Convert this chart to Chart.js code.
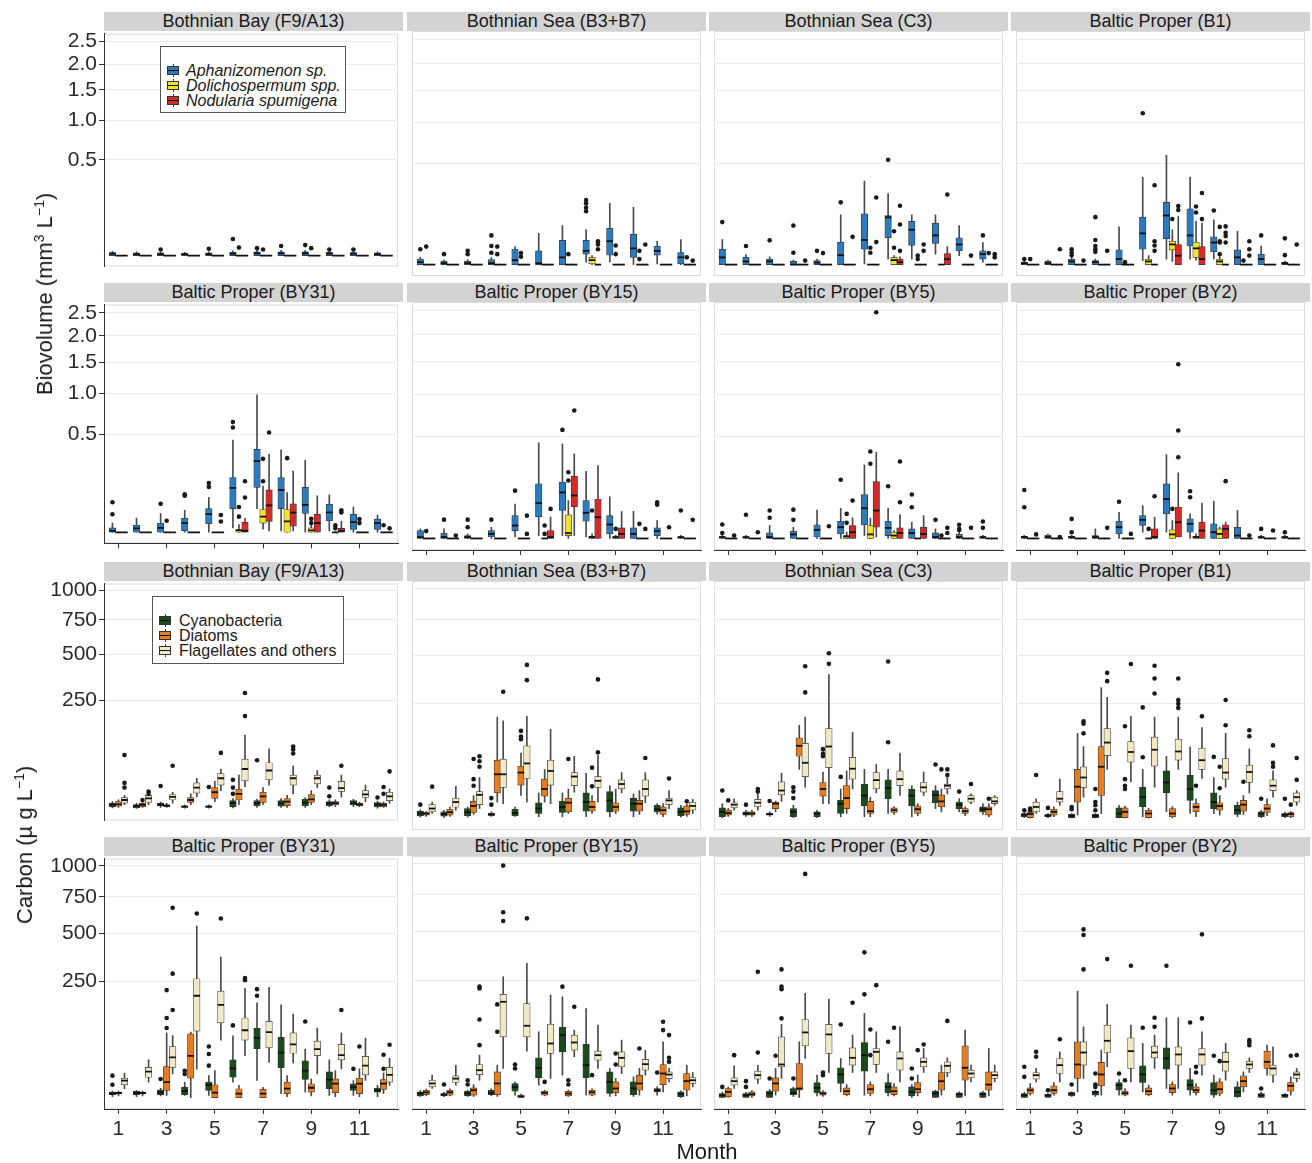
<!DOCTYPE html>
<html>
<head>
<meta charset="utf-8">
<script src="https://cdn.jsdelivr.net/npm/chart.js@4.4.1/dist/chart.umd.min.js"></script>
<style>
html,body{margin:0;padding:0;background:#fff;}
body{width:1312px;height:1163px;position:relative;overflow:hidden;font-family:"Liberation Sans",Arial,Helvetica,sans-serif;color:#1a1a1a;}
.wrap{position:absolute;}
.strip{position:absolute;background:#d3d3d3;color:#1a1a1a;font-size:18px;line-height:19px;height:19px;text-align:center;white-space:nowrap;overflow:hidden;}
.ytitle{position:absolute;transform:translate(-50%,-50%) rotate(-90deg);white-space:nowrap;font-size:22px;color:#1a1a1a;}
.ytitle sup{font-size:14px;vertical-align:8px;line-height:0;}
.xtitle{position:absolute;transform:translate(-50%,-50%);font-size:22px;color:#1a1a1a;white-space:nowrap;}
.legend{position:absolute;border:1px solid #555;background:#fff;}
.item{position:absolute;left:0;height:15px;line-height:15px;font-size:16px;white-space:nowrap;}
.key{position:absolute;top:1px;width:12px;height:13px;}
.key .w{position:absolute;left:5.5px;top:0;width:1px;height:13px;background:#333;}
.key .b{position:absolute;left:0;top:2px;width:10px;height:7px;border:1px solid #333;}
.key .m{position:absolute;left:1px;top:5.5px;width:10px;height:1.6px;background:#111;}
</style>
</head>
<body>
<script>
// ---------------- DATA ----------------
const months = [1,2,3,4,5,6,7,8,9,10,11,12];
const monthTicks = [1,3,5,7,9,11];
const bioTickValues = [0.5,1.0,1.5,2.0,2.5];
const bioTickLabels = ["0.5","1.0","1.5","2.0","2.5"];
const carbonTickValues = [250,500,750,1000];
const carbonTickLabels = ["250","500","750","1000"];
const stations = ["Bothnian Bay (F9/A13)","Bothnian Sea (B3+B7)","Bothnian Sea (C3)","Baltic Proper (B1)",
                  "Baltic Proper (BY31)","Baltic Proper (BY15)","Baltic Proper (BY5)","Baltic Proper (BY2)"];
const bioSeries = ["Aphanizomenon sp.","Dolichospermum spp.","Nodularia spumigena"];
const carbonSeries = ["Cyanobacteria","Diatoms","Flagellates and others"];

// Box statistics per station (8) and month (12): [lower whisker, Q1, median, Q3, upper whisker]
// Biovolume, mm3 L-1
const aphanizomenonBoxes = [
 [[0,0,0.0002,0.0005,0.001],[0,0,0.0001,0.0004,0.0008],[0,0,0.0001,0.0004,0.0008],[0,0,0.0001,0.0003,0.0006],[0,0,0.0001,0.0004,0.0008],[0,0,0.0002,0.0006,0.0012],[0,0,0.0003,0.0008,0.0015],[0,0,0.0003,0.0008,0.0015],[0,0,0.0003,0.0008,0.0015],[0,0,0.0002,0.0006,0.0012],[0,0,0.0002,0.0005,0.001],[0,0,0.0001,0.0004,0.0008]],
 [[0,0,0.0003,0.0015,0.0026],[0,0,0.0001,0.0006,0.001],[0,0,0.0001,0.0006,0.0012],[0,0,0.0001,0.0012,0.0025],[0,0,0.001,0.012,0.016],[0,0,0.0001,0.0093,0.048],[0,0,0.0026,0.029,0.075],[0.0003,0.0054,0.0093,0.029,0.06],[0.0003,0.0044,0.027,0.066,0.185],[0,0.0026,0.013,0.045,0.162],[0.00002,0.0044,0.0093,0.017,0.027],[0,0.00002,0.0026,0.0072,0.031]],
 [[0,0,0.0026,0.0117,0.031],[0,0,0.0005,0.0026,0.005],[0,0,0.0005,0.0015,0.003],[0,0,0,0.0005,0.001],[0,0,0.0002,0.0008,0.0015],[0,0,0.0044,0.025,0.122],[0.00002,0.0117,0.03,0.127,0.344],[0.0015,0.036,0.11,0.118,0.249],[0.0015,0.018,0.06,0.092,0.122],[0.0054,0.022,0.042,0.085,0.122],[0.004,0.0093,0.02,0.0355,0.075],[0.0003,0.0015,0.0054,0.0093,0.024]],
 [[0,0,0.0001,0.0003,0.0006],[0,0,0.0001,0.0005,0.001],[0,0,0.0005,0.0015,0.003],[0,0,0.0003,0.0008,0.0015],[0,0,0.0015,0.0107,0.07],[0.0008,0.0117,0.048,0.111,0.377],[0.0015,0.033,0.119,0.191,0.59],[0.0015,0.017,0.042,0.153,0.377],[0.0015,0.008,0.024,0.038,0.099],[0,0,0.0026,0.0107,0.055],[0,0,0.0015,0.0054,0.017],[0,0,0.0001,0.0003,0.0006]],
 [[0,0,0.0001,0.001,0.0044],[0,0,0.0008,0.0026,0.0103],[0,0,0.001,0.0044,0.0184],[0,0.0001,0.0044,0.0103,0.025],[0,0.0036,0.017,0.029,0.063],[0.001,0.029,0.102,0.155,0.44],[0.029,0.105,0.263,0.357,0.98],[0.0001,0.029,0.093,0.155,0.353],[0,0.0184,0.039,0.105,0.268],[0.0001,0.0069,0.0205,0.041,0.073],[0,0.0004,0.0054,0.017,0.033],[0,0.0004,0.0044,0.009,0.0155]],
 [[0,0,0.0001,0.003,0.0044],[0,0,0.0001,0.0014,0.0044],[0,0,0.0001,0.0004,0.001],[0,0.0001,0.001,0.003,0.0061],[0.0001,0.003,0.0081,0.025,0.057],[0.0004,0.023,0.06,0.144,0.44],[0.0004,0.0376,0.102,0.152,0.43],[0.0001,0.0143,0.0317,0.069,0.216],[0,0.001,0.0094,0.025,0.084],[0,0,0.001,0.0054,0.0355],[0,0.0004,0.0026,0.0054,0.0155],[0,0,0.0001,0.0001,0.0005]],
 [[0,0,0.0001,0.0001,0.0005],[0,0,0.0001,0.0001,0.0005],[0,0,0.0001,0.0015,0.0081],[0,0,0.0008,0.0026,0.0061],[0,0.0001,0.0036,0.009,0.039],[0,0.001,0.0061,0.0143,0.044],[0.0004,0.009,0.044,0.093,0.261],[0,0.0004,0.0054,0.0143,0.044],[0,0,0.0014,0.0044,0.0127],[0,0,0.0001,0.0015,0.0044],[0,0,0.0001,0.0009,0.0026],[0,0,0.0001,0.0001,0.0005]],
 [[0,0,0.0001,0.0002,0.0005],[0,0,0.0001,0.0005,0.001],[0,0,0.0001,0.0002,0.0005],[0,0,0.0001,0.0004,0.0044],[0,0.001,0.0061,0.0143,0.033],[0.0019,0.0081,0.0167,0.025,0.052],[0.0019,0.029,0.075,0.143,0.338],[0,0.0019,0.0103,0.0184,0.029],[0,0,0.0019,0.0103,0.067],[0,0,0.0004,0.0061,0.0376],[0,0,0.0001,0.0001,0.0005],[0,0,0.0001,0.0001,0.0005]]
];
const dolichospermumBoxes = [
 [[0,0,0,0,0],[0,0,0,0,0],[0,0,0,0,0],[0,0,0,0,0],[0,0,0,0,0],[0,0,0,0,0],[0,0,0,0,0],[0,0,0,0,0],[0,0,0,0,0],[0,0,0,0,0],[0,0,0,0,0],[0,0,0,0,0]],
 [[0,0,0,0,0],[0,0,0,0,0],[0,0,0,0,0],[0,0,0,0,0],[0,0,0,0,0],[0,0,0,0,0],[0,0,0,0,0],[0,0.00002,0.001,0.0026,0.004],[0,0,0,0,0],[0,0,0,0,0],[0,0,0,0,0],[0,0,0,0,0]],
 [[0,0,0,0,0],[0,0,0,0,0],[0,0,0,0,0],[0,0,0,0,0],[0,0,0,0,0],[0,0,0,0,0],[0,0,0,0,0],[0,0,0.001,0.0026,0.004],[0,0,0,0,0],[0,0,0,0,0],[0,0,0,0,0],[0,0,0,0,0]],
 [[0,0,0,0,0],[0,0,0,0,0],[0,0,0,0,0],[0,0,0,0,0],[0,0,0,0,0],[0,0,0.0005,0.0015,0.004],[0.0005,0.0107,0.02,0.027,0.06],[0.001,0.0026,0.013,0.025,0.092],[0,0,0.0005,0.0015,0.003],[0,0,0,0,0],[0,0,0,0,0],[0,0,0,0,0]],
 [[0,0,0,0,0],[0,0,0,0,0],[0,0,0,0,0],[0,0,0,0,0],[0,0,0,0,0],[0,0,0.0002,0.0004,0.003],[0.0005,0.0044,0.0127,0.027,0.111],[0,0,0.0061,0.027,0.082],[0,0,0.0002,0.001,0.0025],[0,0,0,0,0],[0,0,0,0,0],[0,0,0,0,0]],
 [[0,0,0,0,0],[0,0,0,0,0],[0,0,0,0,0],[0,0,0,0,0],[0,0,0,0,0],[0,0,0,0,0],[0,0.0004,0.0014,0.027,0.069],[0,0,0.0001,0.0002,0.001],[0,0,0.0001,0.0001,0.0005],[0,0,0,0,0],[0,0,0,0,0],[0,0,0,0,0]],
 [[0,0,0,0,0],[0,0,0,0,0],[0,0,0,0,0],[0,0,0,0,0],[0,0,0,0,0],[0,0,0.0002,0.0004,0.002],[0,0,0.0008,0.0081,0.02],[0,0,0.0004,0.0019,0.003],[0,0,0,0,0],[0,0,0,0,0],[0,0,0,0,0],[0,0,0,0,0]],
 [[0,0,0,0,0],[0,0,0,0,0],[0,0,0,0,0],[0,0,0,0,0],[0,0,0,0,0],[0,0,0,0,0],[0,0,0.0008,0.0036,0.0155],[0,0,0.0001,0.0002,0.001],[0,0,0.001,0.0044,0.0061],[0,0,0,0,0],[0,0,0,0,0],[0,0,0,0,0]]
];
const nodulariaBoxes = [
 [[0,0,0,0,0],[0,0,0,0,0],[0,0,0,0,0],[0,0,0,0,0],[0,0,0,0,0],[0,0,0,0,0],[0,0,0,0,0],[0,0,0,0,0],[0,0,0,0,0],[0,0,0,0,0],[0,0,0,0,0],[0,0,0,0,0]],
 [[0,0,0,0,0],[0,0,0,0,0],[0,0,0,0,0],[0,0,0,0,0],[0,0,0,0,0],[0,0,0,0,0],[0,0,0,0,0],[0,0,0,0,0],[0,0,0,0,0],[0,0,0,0,0],[0,0,0,0,0],[0,0,0,0,0]],
 [[0,0,0,0,0],[0,0,0,0,0],[0,0,0,0,0],[0,0,0,0,0],[0,0,0,0,0],[0,0,0,0,0],[0,0,0,0,0],[0,0,0.0003,0.0015,0.003],[0,0,0,0,0],[0,0,0.0015,0.006,0.016],[0,0,0,0,0],[0,0,0,0,0]],
 [[0,0,0,0,0],[0,0,0,0,0],[0,0,0,0,0],[0,0,0,0,0],[0,0,0,0,0],[0,0,0,0,0],[0,0,0.0039,0.02,0.114],[0,0,0.0015,0.016,0.085],[0,0,0,0,0],[0,0,0,0,0],[0,0,0,0,0],[0,0,0,0,0]],
 [[0,0,0,0,0],[0,0,0,0,0],[0,0,0,0,0],[0,0,0,0,0],[0,0,0,0,0],[0,0,0.0001,0.0054,0.01],[0.0001,0.0061,0.0376,0.093,0.318],[0.0001,0.0019,0.0199,0.042,0.195],[0,0,0.0044,0.0167,0.069],[0,0,0.0001,0.0008,0.0061],[0,0,0,0,0],[0,0,0,0,0]],
 [[0,0,0,0,0],[0,0,0,0,0],[0,0,0,0,0],[0,0,0,0,0],[0,0,0,0,0],[0,0,0.0001,0.003,0.022],[0.0004,0.049,0.089,0.187,0.344],[0,0,0.0218,0.075,0.256],[0,0,0.001,0.0054,0.035],[0,0,0,0,0],[0,0,0,0,0],[0,0,0,0,0]],
 [[0,0,0,0,0],[0,0,0,0,0],[0,0,0,0,0],[0,0,0,0,0],[0,0,0,0,0],[0,0,0.0019,0.0081,0.0205],[0.0001,0.0061,0.0376,0.155,0.357],[0,0,0.0014,0.0054,0.0275],[0,0,0.001,0.0061,0.025],[0,0,0,0,0],[0,0,0,0,0],[0,0,0,0,0]],
 [[0,0,0,0,0],[0,0,0,0,0],[0,0,0,0,0],[0,0,0,0,0],[0,0,0,0,0],[0,0,0.0001,0.0044,0.0218],[0.0001,0.0001,0.0127,0.047,0.207],[0,0,0.003,0.0127,0.06],[0,0,0.0044,0.009,0.0127],[0,0,0,0,0],[0,0,0,0,0],[0,0,0,0,0]]
];
// Outliers: [station index, month, value]
const aphanizomenonOutliers = [
 [0,3,0.002],[0,5,0.0025],[0,6,0.015],[0,7,0.003],[0,8,0.005],[0,9,0.006],[0,10,0.002],[0,11,0.002],
 [1,1,0.0117],[1,2,0.0054],[1,3,0.0093],[1,3,0.0054],[1,4,0.042],[1,4,0.017],[1,4,0.007],[1,8,0.205],[1,8,0.185],[1,8,0.16],[1,8,0.14],
 [2,1,0.089],[2,2,0.017],[2,3,0.029],[2,4,0.075],[2,4,0.007],[2,5,0.0093],[2,6,0.191],[2,8,0.541],[2,12,0.042],
 [3,1,0.0015],[3,3,0.0117],[3,3,0.0072],[3,3,0.0044],[3,4,0.111],[3,4,0.03],[3,4,0.017],[3,4,0.0117],[3,4,0.008],[3,6,1.128],[3,9,0.144],[3,11,0.042],[3,12,0.034],[3,12,0.0044],
 [4,1,0.047],[4,1,0.017],[4,3,0.042],[4,4,0.075],[4,4,0.069],[4,5,0.126],[4,5,0.107],[4,6,0.63],[4,6,0.57],
 [5,2,0.017],[5,3,0.017],[5,3,0.0061],[5,4,0.017],[5,5,0.11],[5,7,0.567],[5,11,0.063],[5,11,0.055],[5,12,0.0376],
 [6,1,0.0094],[6,1,0.0014],[6,2,0.027],[6,3,0.0376],[6,3,0.0205],[6,4,0.04],[6,4,0.0167],[6,6,0.166],[6,8,0.131],[6,9,0.047],[6,9,0.093],[6,10,0.0167],[6,11,0.009],[6,11,0.0044],[6,11,0.0035],[6,12,0.0139],[6,12,0.0054],
 [7,1,0.113],[7,1,0.047],[7,3,0.0184],[7,3,0.0019],[7,5,0.065],[7,8,0.107],[7,8,0.082],[7,11,0.0044],[7,12,0.0019]
];
const dolichospermumOutliers = [
 [0,6,0.0035],[0,7,0.002],[0,9,0.003],
 [1,1,0.016],[1,4,0.016],[1,4,0.0054],[1,5,0.0065],[1,5,0.003],[1,7,0.0054],[1,9,0.018],[1,9,0.0054],[1,10,0.0093],[1,10,0.0015],[1,12,0.0026],
 [2,5,0.0065],[2,7,0.014],[2,7,0.007],[2,8,0.055],[2,8,0.014],[2,9,0.004],[2,9,0.0015],[2,12,0.0065],
 [3,1,0.0015],[3,5,0.0003],[3,7,0.102],[3,8,0.166],[3,8,0.134],[3,9,0.07],[3,9,0.027],[3,9,0.024],[3,9,0.0054],[3,10,0.0008],
 [4,3,0.0069],[4,6,0.033],[4,6,0.0127],[4,7,0.28],[4,7,0.135],[4,8,0.285],[4,9,0.0094],[4,9,0.0044],[4,10,0.0026],[4,10,0.0008],[4,11,0.009],[4,11,0.0044],[4,12,0.0026],
 [5,1,0.0026],[5,6,0.0081],[5,6,0.001],[5,7,0.211],[5,7,0.162],[5,8,0.0376],[5,9,0.0044],[5,10,0.0103],
 [6,6,0.029],[6,6,0.0117],[6,7,0.364],[6,7,0.268],[6,10,0.0004],
 [7,6,0.0044],[7,7,0.042]
];
const nodulariaOutliers = [
 [1,8,0.027],[1,8,0.02],[1,8,0.0117],[1,10,0.02],[1,12,0.0008],
 [2,4,0.0008],[2,6,0.038],[2,7,0.222],[2,7,0.025],[2,8,0.171],[2,8,0.079],[2,8,0.0093],[2,9,0.02],[2,9,0.0093],[2,10,0.242],[2,11,0.004],[2,12,0.0054],[2,12,0.0026],
 [3,2,0.0117],[3,3,0.0008],[3,4,0.0093],[3,6,0.31],[3,6,0.027],[3,6,0.018],[3,6,0.0093],[3,7,0.169],[3,7,0.147],[3,8,0.253],[3,8,0.102],[3,9,0.072],[3,9,0.05],[3,9,0.04],[3,9,0.024],[3,10,0.027],[3,10,0.0117],[3,10,0.004],[3,12,0.02],
 [4,5,0.0155],[4,5,0.0061],[4,6,0.135],[4,6,0.063],[4,7,0.517],[4,10,0.025],[4,10,0.0205],[4,12,0.0008],
 [5,2,0.0004],[5,5,0.025],[5,5,0.001],[5,6,0.042],[5,7,0.787],[5,10,0.0044],[5,11,0.0061],[5,12,0.0167],
 [6,1,0.0004],[6,2,0.0019],[6,5,0.0072],[6,6,0.069],[6,7,2.46],[6,8,0.063],[6,8,0.285],[6,10,0.0054],[6,10,0.0014],[6,11,0.0054],
 [7,1,0.0008],[7,2,0.0001],[7,4,0.0054],[7,5,0.001],[7,6,0.086],[7,7,0.317],[7,7,0.56],[7,7,1.46],[7,9,0.158],[7,10,0.0004],[7,11,0.003]
];

// Carbon, ug L-1
const cyanobacteriaBoxes = [
 [[0.07,0.16,0.51,0.89,1.36],[0.03,0.07,0.3,0.51,0.8],[0.1,0.34,0.5,0.89,1.2],[0.05,0.1,0.2,0.3,0.5],[0.05,0.1,0.2,0.3,0.5],[0.07,0.16,0.89,1.69,2.6],[0.1,0.34,0.89,1.69,2.2],[0.1,0.24,0.8,1.69,2.5],[0.1,0.34,1.0,2.2,3.0],[0.2,0.34,0.8,1.36,2.0],[0.2,0.5,0.89,1.69,2.2],[0.05,0.16,0.6,1.06,1.5]],
 [[0.05,0.16,0.5,1.06,1.5],[0.03,0.12,0.4,0.89,1.3],[0.05,0.16,0.8,1.93,2.6],[0.1,0.2,0.3,0.6,0.9],[0.1,0.16,0.6,1.69,2.5],[0.07,0.5,1.93,4.8,12.5],[0.07,0.72,2.6,5.65,12.5],[0.07,1.06,5.2,12.5,38.8],[0.07,0.89,6.3,13.8,20.5],[0.07,1.06,4.25,8.0,11.6],[0.4,0.89,1.69,3.37,4.2],[0.05,0.16,0.89,2.2,3.37]],
 [[0.02,0.07,0.89,2.2,4.25],[0.1,0.24,0.5,0.89,1.3],[0.1,0.24,0.4,0.6,0.9],[0.02,0.07,0.89,1.93,3.37],[0.02,0.07,0.51,0.89,1.3],[0.07,0.51,4.25,6.3,16.6],[0.07,3.06,10.1,22.6,45.7],[0.5,7.5,17.4,28.4,45.7],[0.07,3.06,10.1,16.6,20.5],[1.93,4.8,10.7,14.9,20.5],[0.89,1.93,3.7,5.2,7.5],[0.34,0.89,1.7,2.6,4.25]],
 [[0.02,0.07,0.3,0.51,0.8],[0.02,0.07,0.2,0.3,0.5],[0.01,0.02,0.15,0.34,0.5],[0.01,0.02,0.15,0.34,0.5],[0.01,0.02,0.51,2.2,3.37],[0.07,2.6,8.7,18.5,45.7],[0.89,12.5,24.7,42.9,73],[0.5,6.3,16.6,35.6,96.4],[0.5,1.93,5.2,12.5,31.9],[0.07,0.34,1.36,3.37,5.2],[0.02,0.07,0.5,0.89,1.3],[0.02,0.07,0.3,0.51,0.8]],
 [[0.02,0.16,0.3,0.58,0.8],[0.02,0.16,0.4,0.72,0.9],[0.05,0.16,0.5,1.16,1.6],[0.1,0.16,0.8,2.06,4.44],[0.1,0.97,3.06,4.44,9.1],[4.44,7.73,15.9,26.6,71],[5.44,44.6,66.6,90,167],[0.29,16.4,37.7,68.3,160],[0.58,6.1,13.6,25.2,43.8],[0.1,1.48,6.1,12.5,26.6],[0.1,0.97,2.06,3.6,5.44],[0.02,0.58,0.97,1.7,2.8]],
 [[0.02,0.05,0.3,0.58,0.9],[0.01,0.05,0.16,0.29,0.5],[0.02,0.05,0.3,0.72,1.0],[0.05,0.16,0.4,0.97,1.4],[0.1,0.72,2.06,3.6,4.44],[2.8,7.0,15.9,28.7,78.7],[9.1,38,71,90,185],[0.1,7.0,19.1,51.3,144],[0.02,0.29,4.44,12,15.4],[0.02,0.16,1.48,4.44,7.8],[0.1,0.58,0.97,1.48,2.06],[0,0.01,0.2,0.58,0.8]],
 [[0,0,0.1,0.29,0.5],[0,0,0.1,0.29,0.5],[0,0,0.3,0.73,1.2],[0.02,0.16,0.4,1.48,2.0],[0.05,0.45,1.7,4.1,9.1],[0.58,3.6,9.66,16.1,27.8],[0.1,12.7,32.7,55.2,129],[0.05,0.45,2.06,4.1,10.5],[0,0.05,0.58,2.06,3.06],[0,0,0.3,0.73,1.0],[0,0,0.2,0.4,0.6],[0,0,0.2,0.45,0.7]],
 [[0,0,0.1,0.29,0.5],[0,0,0.1,0.16,0.3],[0.02,0.05,0.3,0.45,0.6],[0.02,0.1,0.5,0.73,1.0],[0.1,0.97,2.8,4.1,5.9],[0.58,4.1,9.66,18.3,53.2],[1.48,14.7,27.8,45,116],[0.1,0.97,2.8,5.9,15.4],[0,0.1,0.97,4.1,9.1],[0,0.01,0.58,2.06,4.44],[0,0,0.1,0.29,0.5],[0,0,0.1,0.16,0.3]]
];
const diatomBoxes = [
 [[0.1,0.24,0.6,1.36,2.0],[0.1,0.16,0.5,0.89,1.5],[0.1,0.2,0.34,0.5,0.8],[0.5,1.06,1.93,3.06,5.2],[1.36,2.6,6.3,10.1,16.6],[0.5,1.93,5.2,8.7,24.7],[0.5,1.06,3.7,6.3,10.1],[0.1,0.34,1.36,2.6,4.25],[0.5,1.06,2.2,4.8,7.5],[0.2,0.5,0.89,1.36,2.0],[0.2,0.34,0.6,0.89,1.2],[0.1,0.16,0.5,0.89,1.3]],
 [[0.1,0.24,0.5,0.7,1.0],[0.1,0.24,0.8,1.69,2.5],[0.34,0.72,3.06,5.65,10.1],[5.2,12.5,37.1,64.4,194],[10.1,21.3,40,52,81],[5.2,9.6,16.6,29.4,45.7],[0.5,0.89,4.8,8.0,16.6],[0.5,1.06,2.6,5.65,10.1],[0.5,1.06,2.6,4.8,16.6],[0.34,1.06,4.25,6.3,14.9],[0.07,0.34,1.36,2.6,4.25],[0.1,0.34,1.0,3.06,4.0]],
 [[0.1,0.24,0.6,1.36,2.0],[0.1,0.24,0.5,0.89,1.3],[0.89,1.93,4.25,5.2,5.85],[45.7,73.3,100,123,164],[4.25,9.6,16.6,24.7,41],[0.5,1.93,8.0,20.5,42.9],[0.07,0.51,1.06,5.65,8.7],[0.34,0.72,1.36,2.2,2.6],[0.16,0.51,1.7,3.06,4.25],[0.89,2.6,5.65,10.7,16.6],[0.16,0.51,1.06,1.93,2.6],[0.07,0.24,1.7,2.6,4.25]],
 [[0.01,0.02,0.4,0.89,1.0],[0.07,0.24,0.89,1.69,2.6],[0.24,5.2,19.3,45.7,137],[0.5,10.1,50.7,98,323],[0.01,0.02,0.89,2.2,3.0],[0.01,0.02,0.51,1.36,2.0],[0.02,0.07,0.51,1.93,2.8],[0.07,0.89,2.6,4.25,7.5],[0.24,1.36,3.06,4.8,10.1],[0.34,1.06,3.7,6.3,10.1],[0.16,0.72,1.93,3.7,7.5],[0.02,0.07,0.4,0.72,1.0]],
 [[0.05,0.24,0.4,0.58,0.8],[0.05,0.24,0.4,0.58,0.8],[0.1,0.97,4.44,17.8,78],[0,7.0,32.4,75.7,80],[0,0,0.45,3.06,13.5],[0,0,0.29,1.48,2.8],[0,0,0.29,1.26,2.0],[0.02,0.29,1.48,4.44,9.1],[0.05,0.58,1.82,3.6,6.5],[0.02,0.45,3.6,6.5,13.6],[0.02,0.29,3.6,7.0,15.4],[0.29,1.26,3.6,6.1,11.4]],
 [[0.05,0.16,0.5,0.97,1.3],[0.05,0.1,0.5,0.97,1.4],[0.02,0.1,0.97,1.7,3.06],[0.02,0.16,3.6,12,19],[0,0,0.02,0.1,0.2],[0.05,0.1,0.4,0.72,1.0],[0.02,0.05,0.29,0.72,1.0],[0.05,0.1,0.5,0.97,1.4],[0.05,0.45,1.48,4.44,6.6],[0.1,0.97,3.6,9.1,15.4],[0.58,3.06,10.5,19.9,56.6],[0.05,0.97,4.9,10.5,19.1]],
 [[0,0.01,0.58,1.48,2.0],[0,0.05,0.2,0.58,0.9],[0.1,0.73,3.6,7.0,15.4],[0,0.97,1.48,21.1,56.6],[0.02,0.1,0.3,0.58,0.9],[0.05,0.16,0.73,1.7,3.06],[0.05,0.29,1.26,3.06,4.44],[0.05,0.16,0.73,2.06,3.6],[0.05,0.45,1.26,4.1,9.1],[0.1,0.97,4.87,11.4,19.1],[0.05,5.44,16.1,48.8,82.8],[0.05,0.97,3.06,12,43.8]],
 [[0.1,0.29,0.97,1.7,3.6],[0.1,0.29,0.97,2.5,4.1],[0.58,6.6,19.9,56.6,206],[0.1,2.5,9.66,22.4,40.9],[0.05,0.1,0.34,0.73,1.48],[0.05,0.16,0.73,1.7,2.8],[0.1,0.45,1.48,3.06,4.44],[0.1,0.45,0.97,2.06,3.6],[0.05,0.29,1.26,4.44,6.6],[0.58,2.06,4.87,8.6,12],[9.1,15.4,23.2,39.2,50],[0.1,0.73,2.5,4.1,7.8]]
];
const flagellateBoxes = [
 [[0.5,0.89,1.93,3.06,4.25],[0.5,1.06,2.6,4.25,4.6],[0.89,1.93,3.37,4.8,6.3],[3.37,5.65,10.1,14.9,20.5],[7.5,12.5,20.5,27,34.4],[10.7,17.3,34.4,53.3,116],[12.5,18.5,31.9,45.8,77],[5.2,12.5,20.5,24.7,40],[10.1,13.8,20.5,24.7,31.9],[3.37,7.0,9.6,16.6,24.7],[1.36,3.06,4.8,7.5,12.5],[0.89,1.69,3.7,6.3,8.7]],
 [[0.5,0.89,1.93,3.7,5.2],[1.36,2.46,5.2,8.0,19.7],[1.93,3.7,10.7,13.8,31.9],[4.25,18.5,37.1,67,180],[5.2,30.4,57.4,100,197],[4.25,21.3,42.9,64.4,150],[13.2,20.5,33.4,40,73.2],[5.2,18.5,27,33.4,74.7],[12.5,16.6,22.6,28.5,40],[4.8,9.6,16.6,28.5,40],[1.93,3.7,6.3,8.0,14.9],[0.5,1.36,3.06,5.2,7.0]],
 [[1.36,2.2,3.7,4.8,7.5],[1.36,2.6,4.8,7.0,11.6],[5.65,10.7,14.9,25.6,38.8],[18.5,33.4,58.8,107,194],[4.25,48.9,98,153,391],[16.6,29.4,47,71,140],[12.5,16.6,28,40,55.4],[10.1,20.5,29.4,42.9,81],[10.1,13.2,18.5,24.7,41],[11.6,16.6,20.5,22.6,31.9],[4.25,5.2,7.5,10.1,11.6],[3.37,4.25,5.65,8.7,10.1]],
 [[0.5,0.89,2.6,5.2,7.5],[3.37,5.2,7.5,13.8,29.4],[8.7,18.5,31.9,50.7,98],[45.7,74.9,109,153,277],[25.6,60,83.7,112,197],[18.5,52,89.5,125,194],[45.7,64.4,85,119,194],[30.4,45.7,64.4,93.8,156],[18.5,29.4,40,68,137],[12.5,24.7,41,54,92],[8.7,14.9,20.5,28.4,42.9],[3.37,5.2,8.7,12.5,14.9]],
 [[1.48,3.06,5.44,7.0,11.3],[4.44,7.73,12.5,17.0,26.6],[10.4,17.0,30,48.3,71.8],[15.2,82,193,263,548],[61.6,104,160,211,367],[32.7,61.6,84.4,118,222],[23,46,79.6,108,226],[22.4,36.6,52.8,78.2,130],[10.4,32.7,43.8,59.5,90],[15.4,26.6,33.5,52.8,78.2],[5.44,9.6,19,31.7,65.7],[2.8,4.44,9.6,17.0,28.7]],
 [[1.48,2.06,3.6,5.44,9.1],[2.8,4.1,6.5,8.5,19],[5.44,9.6,13.6,19.9,32.7],[15.4,67,167,194,266],[39.2,67,93.8,161,328],[6.6,35.4,53.2,98,191],[30.2,41,55.2,71,82.8],[15.4,25.4,32.7,39.2,95.5],[10.4,17.2,28.7,38,60],[9.1,13.6,20.3,26.6,40.9],[4.44,6.5,9.6,12,15.4],[2.06,3.6,5.44,7.3,11.4]],
 [[1.48,2.8,4.87,7.0,18.3],[3.6,6.1,9.1,12.7,19.1],[6.6,17.2,19.9,67.2,97.3],[27.8,48.8,77.2,111,198],[11.4,35.4,72.5,97.3,176.6],[11.4,19.1,28.7,45,71],[11.4,19.9,38,43.8,78.7],[4.44,13.6,27.8,38,91],[11.4,17.2,23.2,28.7,43.8],[7.8,11.4,18.3,23.2,28.7],[4.44,7.0,10.5,13.6,19.1],[4.44,6.6,9.1,12,19.1]],
 [[4.44,6.1,9.1,11.4,15.4],[4.44,10.5,19.1,27.8,38],[6.6,19.1,36.9,56.6,91],[17.2,36.9,58.6,95.5,158],[4.44,15.4,39.2,65,95.5],[15.4,28.7,36.9,48.1,71],[1.48,19.1,33.8,46.9,116],[9.1,19.1,33.8,43.8,78.7],[5.44,12.7,23.2,37,53.2],[11.4,15.4,19.9,24.1,28.7],[4.1,9.1,15.4,19.1,46.9],[4.44,6.6,9.66,12,15.4]]
];
const cyanobacteriaOutliers = [
 [0,3,11.6],[0,5,10.7],[0,6,18.5],[0,6,10.1],[0,6,5.2],[0,7,50.7],[0,10,10.1],[0,10,3.7],[0,12,3.06],
 [1,1,3.7],[1,4,8.0],[1,4,3.7],
 [2,1,14.9],[2,2,3.7],[2,3,5.85],[2,4,18.5],[2,4,13.8],[2,4,8.0],[2,6,32.9],[2,8,110],[2,8,465],[2,10,55.4],[2,11,13.8],
 [3,1,1.36],[3,2,2.2],[3,3,2.6],[3,3,1.7],[3,4,16.6],[3,4,5.2],[3,4,3.37],[3,4,1.36],[3,6,71],[3,6,233],[3,9,71.8],[3,11,7.5],[3,12,7.5],
 [4,1,9.0],[4,1,3.06],[4,3,6.5],[4,4,13.5],[4,4,10.4],[4,5,19],[4,5,35.4],[4,5,48.7],[4,6,97],[4,7,219],[4,7,193],[4,9,108],[4,11,15.4],
 [5,2,3.06],[5,3,5.44],[5,3,3.06],[5,5,19.9],[5,5,15.4],[5,7,224],[5,11,11.4],
 [6,1,2.06],[6,2,4.87],[6,2,2.06],[6,3,6.6],[6,4,6.6],[6,6,97.3],[6,7,194],[6,7,384],[6,8,56.6],[6,9,15.4],[6,9,6.6],
 [7,1,17.2],[7,1,7.8],[7,2,0.97],[7,3,3.06],[7,4,10.5],[7,4,3.06],[7,4,2.06],[7,5,10.5],[7,6,88.6],[7,7,316],[7,8,102.7],[7,9,31.7],[7,11,1.48]
];
const diatomOutliers = [
 [0,2,1.93],[0,12,10.7],[0,12,5.2],
 [1,3,67],[1,3,29.4],[1,3,20.5],[1,5,145],[1,5,127],[1,5,119],[1,7,67],[1,8,49],[1,8,19.7],[1,12,5.65],
 [2,1,6.3],[2,5,91],[2,5,79.6],[2,5,73.2],[2,10,45.7],[2,12,7.5],
 [3,1,1.3],[3,1,1.93],[3,5,161],[3,5,29.4],[3,5,20.5],[3,5,16.6],[3,8,20.5],[3,9,50.7],[3,9,17.4],[3,10,25.6],[3,12,3.7],
 [4,3,215],[4,3,118],[4,3,90],[4,11,48.7],[4,12,34.3],[4,12,15.4],
 [5,4,158],[5,4,78.7],[5,6,4.44],[5,7,5.44],[5,7,3.06],[5,8,9.1],[5,9,35.4],[5,9,19.9],[5,10,43.8],[5,11,104.6],[5,11,82.8],
 [6,3,31.7],[6,5,11.4],[6,5,9.1],[6,7,32.7],[6,7,84.4],[6,8,88.6],[6,9,40.9],
 [7,5,5.44],[7,8,17.2],[7,8,11.4],[7,9,24.1],[7,12,31.7]
];
const flagellateOutliers = [
 [0,1,62],[0,1,14.9],[0,1,10.1],[0,2,6.76],[0,2,5.2],[0,3,40],[0,5,67],[0,6,182],[0,6,283],[0,8,82.8],[0,8,75],[0,8,65.7],[0,10,40],[0,12,30.4],
 [1,1,19.3],[1,3,73.2],[1,3,62],[1,3,50.7],[1,4,303],[1,5,445],[1,5,361],[1,8,82.8],[1,8,365],[1,10,69.4],[1,11,30.4],
 [2,2,16.6],[2,2,13.8],[2,4,300],[2,4,437],[2,5,515],[2,5,451],[2,10,45.7],[2,10,36],[2,11,22.6],
 [3,1,36],[3,3,178],[3,3,170],[3,3,137],[3,4,400],[3,4,356],[3,5,450],[3,6,440],[3,6,370],[3,6,295],[3,7,370],[3,7,265],[3,7,248],[3,7,231],[3,8,197],[3,9,265],[3,9,164],[3,10,147],[3,10,128],[3,11,101],[3,11,58.6],[3,11,50.7],[3,12,69.4],[3,12,28.4],
 [4,3,143],[4,3,286],[4,3,670],[4,4,631],[4,5,597],[4,6,266],[4,6,256],[4,10,143],[4,12,51.9],
 [5,3,50],[5,3,111],[5,3,224],[5,3,217],[5,4,980],[5,4,625],[5,4,568],[5,5,585],[5,7,150],[5,11,71],[5,11,28.7],[5,11,23.2],
 [6,1,32.7],[6,2,37],[6,2,288],[6,3,114],[6,3,224],[6,3,214],[6,3,299],[6,4,911],[6,6,163.6],[6,7,230],[6,9,51.3],[6,10,107],
 [7,1,38],[7,1,30.2],[7,2,62],[7,3,515],[7,3,481],[7,3,299],[7,4,349],[7,5,316],[7,6,116],[7,6,91],[7,8,114],[7,8,485],[7,10,60],[7,10,55.2],[7,10,50],[7,12,32.7]
];

// ---------------- STYLE / LAYOUT ----------------
const bioColors = ["#2f7aba","#f0e42a","#d52a2a"];
const carbonColors = ["#1d4a1c","#e67d22","#f1e9c4"];
const dodge = [-0.25, 0, 0.25];
const colLeft = [104, 407, 709, 1011];
const rowTop = [31, 302, 581, 856];
const rowH = [250, 248, 254, 253];
const PW = 299, PAD_TOP = 12;

Chart.defaults.font.family = "'Liberation Sans', Arial, Helvetica, sans-serif";

const panelBorder = {
  id: 'panelBorder',
  beforeDraw(chart) {
    const a = chart.chartArea, ctx = chart.ctx;
    ctx.save();
    ctx.strokeStyle = '#dcdcdc';
    ctx.lineWidth = 1;
    ctx.strokeRect(a.left + 0.5, a.top + 0.5, a.right - a.left - 1, a.bottom - a.top - 1);
    ctx.restore();
  }
};

const sections = [
  { boxes: [aphanizomenonBoxes, dolichospermumBoxes, nodulariaBoxes],
    outliers: [aphanizomenonOutliers, dolichospermumOutliers, nodulariaOutliers],
    colors: bioColors, tickValues: bioTickValues, tickLabels: bioTickLabels,
    yMin: -0.08, yMax: 1.64, rows: [0, 1] },
  { boxes: [cyanobacteriaBoxes, diatomBoxes, flagellateBoxes],
    outliers: [cyanobacteriaOutliers, diatomOutliers, flagellateOutliers],
    colors: carbonColors, tickValues: carbonTickValues, tickLabels: carbonTickLabels,
    yMin: -1.55, yMax: 32.6, rows: [2, 3] }
];

function buildDatasets(sec, p) {
  const whisk = [], boxes = [], boxCol = [], meds = [], outs = [];
  sec.boxes.forEach((series, s) => {
    series[p].forEach((b, mi) => {
      const x = months[mi] + dodge[s];
      whisk.push({ x, y: [Math.sqrt(b[0]), Math.sqrt(b[4])] });
      boxes.push({ x, y: [Math.sqrt(b[1]), Math.sqrt(b[3])] });
      boxCol.push(sec.colors[s]);
      meds.push({ x, y: Math.sqrt(b[2]) });
    });
    sec.outliers[s].filter(o => o[0] === p).forEach(o => outs.push({ x: o[1] + dodge[s], y: Math.sqrt(o[2]) }));
  });
  return [
    { type: 'scatter', data: outs, pointStyle: 'circle', pointRadius: 2.3, pointHoverRadius: 2.3,
      pointBackgroundColor: '#1a1a1a', pointBorderWidth: 0, pointBorderColor: '#1a1a1a' },
    { type: 'scatter', data: meds, pointStyle: 'line', pointRadius: 3.2, pointHoverRadius: 3.2,
      pointBorderWidth: 1.8, pointBorderColor: '#111', pointBackgroundColor: '#111' },
    { type: 'bar', data: boxes, backgroundColor: boxCol, borderColor: '#333', borderWidth: 0.7,
      borderSkipped: false, barThickness: 6.5, grouped: false },
    { type: 'bar', data: whisk, backgroundColor: '#4a4a4a', borderWidth: 0, barThickness: 1, grouped: false }
  ];
}

function makePanel(sec, p) {
  const r = sec.rows[Math.floor(p / 4)], c = p % 4;
  const yW = c === 0 ? 100 : 0;
  const xH = r === 3 ? 46 : (r === 1 ? 8 : 0);
  const wrap = document.createElement('div');
  wrap.className = 'wrap';
  wrap.style.left = (colLeft[c] - yW) + 'px';
  wrap.style.top = (rowTop[r] - PAD_TOP) + 'px';
  wrap.style.width = (yW + PW) + 'px';
  wrap.style.height = (PAD_TOP + rowH[r] + xH) + 'px';
  const cv = document.createElement('canvas');
  wrap.appendChild(cv);
  document.body.appendChild(wrap);

  const strip = document.createElement('div');
  strip.className = 'strip';
  strip.style.left = colLeft[c] + 'px';
  strip.style.top = (rowTop[r] - 19) + 'px';
  strip.style.width = PW + 'px';
  strip.textContent = stations[p];
  document.body.appendChild(strip);

  new Chart(cv, {
    type: 'bar',
    data: { datasets: buildDatasets(sec, p) },
    plugins: [panelBorder],
    options: {
      animation: false, responsive: true, maintainAspectRatio: false, events: [],
      layout: { padding: { top: PAD_TOP, left: 0, right: 0, bottom: 0 } },
      plugins: { legend: { display: false }, tooltip: { enabled: false }, title: { display: false } },
      scales: {
        x: {
          type: 'linear', min: 0.4, max: 12.6, offset: false, display: xH > 0,
          afterBuildTicks: a => { a.ticks = monthTicks.map(v => ({ value: v })); },
          afterFit: s => { s.height = xH; },
          grid: { display: true, offset: false, drawOnChartArea: false, drawTicks: true, tickLength: 5, tickColor: '#333', color: '#333' },
          border: { display: true, color: '#333', width: 1 },
          ticks: { display: r === 3, font: { size: 21 }, color: '#2b2b2b', padding: 3, maxRotation: 0, autoSkip: false,
                   callback: v => String(v) }
        },
        y: {
          type: 'linear', min: sec.yMin, max: sec.yMax,
          afterBuildTicks: a => { a.ticks = sec.tickValues.map(v => ({ value: Math.sqrt(v) })); },
          afterFit: s => { s.width = yW; },
          grid: { color: '#ebebeb', lineWidth: 1, drawTicks: c === 0, tickLength: 5, tickColor: '#333' },
          border: { display: c === 0, color: '#333', width: 1 },
          ticks: { display: c === 0, font: { size: 21 }, color: '#2b2b2b', padding: 2, autoSkip: false,
                   callback: (v, i) => sec.tickLabels[i] }
        }
      }
    }
  });
}

sections.forEach(sec => { for (let p = 0; p < 8; p++) makePanel(sec, p); });

// legends
function makeLegend(left, top, w, h, names, colors, italic, keyLeft, textLeft) {
  const lg = document.createElement('div');
  lg.className = 'legend';
  lg.style.left = left + 'px'; lg.style.top = top + 'px';
  lg.style.width = w + 'px'; lg.style.height = h + 'px';
  names.forEach((n, i) => {
    const it = document.createElement('div');
    it.className = 'item';
    it.style.top = (16 + 15 * i) + 'px';
    it.style.width = w + 'px';
    const key = document.createElement('span');
    key.className = 'key';
    key.style.left = keyLeft + 'px';
    key.innerHTML = '<span class="w"></span><span class="b" style="background:' + colors[i] + '"></span><span class="m"></span>';
    const t = document.createElement('span');
    t.style.position = 'absolute'; t.style.left = textLeft + 'px';
    if (italic) t.style.fontStyle = 'italic';
    t.textContent = n;
    it.appendChild(key); it.appendChild(t);
    lg.appendChild(it);
  });
  document.body.appendChild(lg);
}
makeLegend(160, 46, 184, 65, bioSeries, bioColors, true, 6, 25);
makeLegend(152, 596, 190, 66, carbonSeries, carbonColors, false, 6, 26);

// axis titles
const t1 = document.createElement('div'); t1.className = 'ytitle';
t1.style.left = '45px'; t1.style.top = '294px';
t1.innerHTML = 'Biovolume (mm<sup>3</sup> L<sup>\u22121</sup>)';
document.body.appendChild(t1);
const t2 = document.createElement('div'); t2.className = 'ytitle';
t2.style.left = '25px'; t2.style.top = '845px';
t2.innerHTML = 'Carbon (\u00b5 g L<sup>\u22121</sup>)';
document.body.appendChild(t2);
const t3 = document.createElement('div'); t3.className = 'xtitle';
t3.style.left = '707px'; t3.style.top = '1152px';
t3.textContent = 'Month';
document.body.appendChild(t3);
</script>
</body>
</html>
